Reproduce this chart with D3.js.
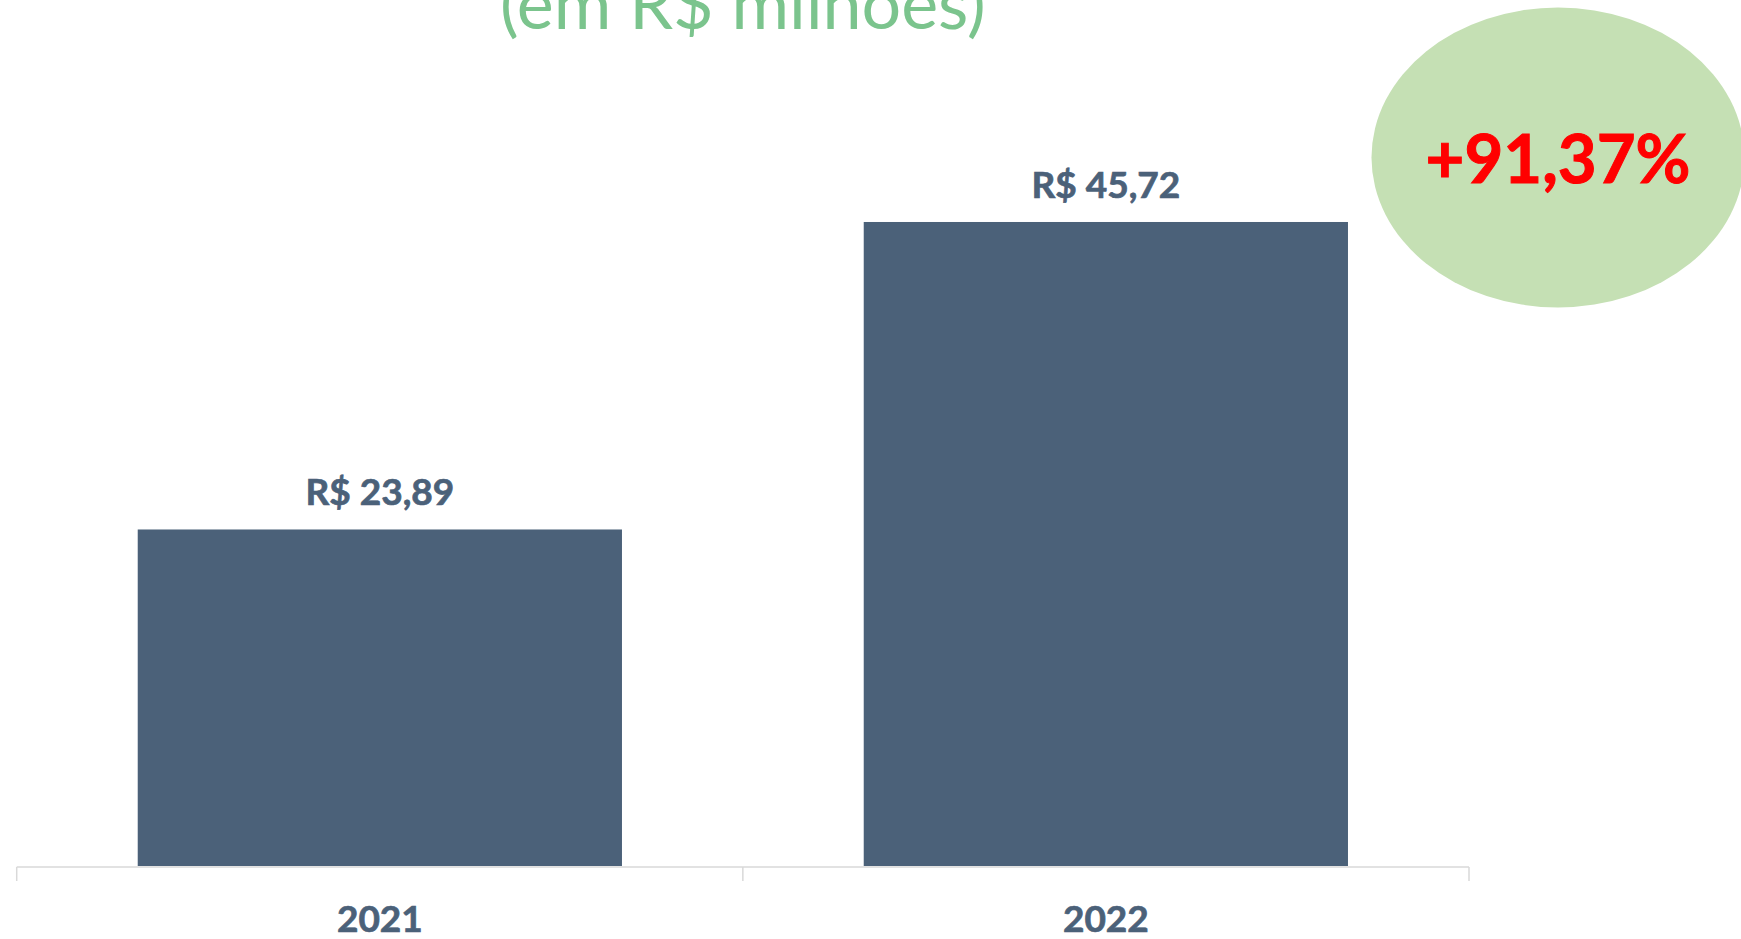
<!DOCTYPE html>
<html>
<head>
<meta charset="utf-8">
<script src="https://cdn.jsdelivr.net/npm/d3@7"></script>
<style>
  html, body { margin: 0; padding: 0; background: #fff; }
  svg { display: block; }
</style>
</head>
<body>
<div class="visChart"></div>
<script>
const w = 1741;
const h = 939;

// data
const years = ["2021", "2022"];
const values = [23.89, 45.72];
const growthLabel = "+91,37%";
const title = "(em R$ milhões)";

const barColor = "#4b6179";
const labelColor = "#4b6179";

const ptBR = d3.formatLocale({
  decimal: ",",
  thousands: ".",
  grouping: [3],
  currency: ["R$ ", ""]
});
const money = ptBR.format("$,.2f");

const svg = d3
  .select(".visChart")
  .append("svg")
  .attr("width", w)
  .attr("height", h);

//scales
const xScale = d3
  .scaleBand()
  .domain(years)
  .range([16.7, 1469])
  .paddingInner(0.333)
  .paddingOuter(0.1667);

const yScale = d3.scaleLinear().domain([0, 50]).range([866, 161.7]);

//title
svg
  .append("text")
  .attr("x", (16.7 + 1469) / 2)
  .attr("y", 29)
  .attr("text-anchor", "middle")
  .style("font-family", "Lato")
  .style("font-size", "70px")
  .style("fill", "#7bc48d")
  .text(title);

//bars
svg
  .selectAll(".bar")
  .data(values)
  .enter()
  .append("rect")
  .attr("class", "bar")
  .attr("x", (d, i) => xScale(years[i]))
  .attr("y", (d) => yScale(d))
  .attr("width", xScale.bandwidth())
  .attr("height", (d) => yScale(0) - yScale(d))
  .style("fill", barColor);

//value labels
svg
  .selectAll(".val")
  .data(values)
  .enter()
  .append("text")
  .attr("class", "val")
  .attr("x", (d, i) => xScale(years[i]) + xScale.bandwidth() / 2)
  .attr("y", (d) => yScale(d) - 24)
  .attr("text-anchor", "middle")
  .style("font-family", "Lato")
  .style("font-weight", "bold")
  .style("font-size", "37px")
  .style("fill", labelColor)
  .style("stroke", labelColor)
  .style("stroke-width", 0.7)
  .text((d) => money(d));

//axis
const xAxis = d3.axisBottom(xScale).tickSize(0).tickPadding(0);
const axisG = svg
  .append("g")
  .attr("id", "x-axis")
  .attr("transform", `translate(0, ${yScale(0) + 1})`)
  .call(xAxis);
axisG.select(".domain").remove();
axisG
  .selectAll("text")
  .attr("dy", 0)
  .attr("y", 65)
  .style("font-family", "Lato")
  .style("font-weight", "bold")
  .style("font-size", "37px")
  .style("fill", labelColor)
  .style("stroke", labelColor)
  .style("stroke-width", 0.7);

const [r0, r1] = xScale.range();
const edges = [r0, ...years.slice(1).map((y) => xScale(y) - (xScale.step() * xScale.paddingInner()) / 2), r1];
axisG
  .append("line")
  .attr("x1", r0)
  .attr("x2", r1)
  .attr("y1", 0)
  .attr("y2", 0)
  .style("stroke", "#d9d9d9")
  .style("stroke-width", 1.5);
axisG
  .selectAll(".edge")
  .data(edges)
  .enter()
  .append("line")
  .attr("class", "edge")
  .attr("x1", (d) => d)
  .attr("x2", (d) => d)
  .attr("y1", 0)
  .attr("y2", 14)
  .style("stroke", "#d9d9d9")
  .style("stroke-width", 1.5);

//growth bubble
const bubble = svg.append("g").attr("transform", "translate(1558, 157.5)");
bubble
  .append("ellipse")
  .attr("rx", 186.5)
  .attr("ry", 150)
  .style("fill", "#c5e0b4");
bubble
  .append("text")
  .attr("y", 25)
  .attr("text-anchor", "middle")
  .style("font-family", "Lato")
  .style("font-weight", "bold")
  .style("font-size", "67px")
  .style("fill", "#ff0000")
  .style("stroke", "#ff0000")
  .style("stroke-width", 1)
  .text(growthLabel);
</script>
</body>
</html>
